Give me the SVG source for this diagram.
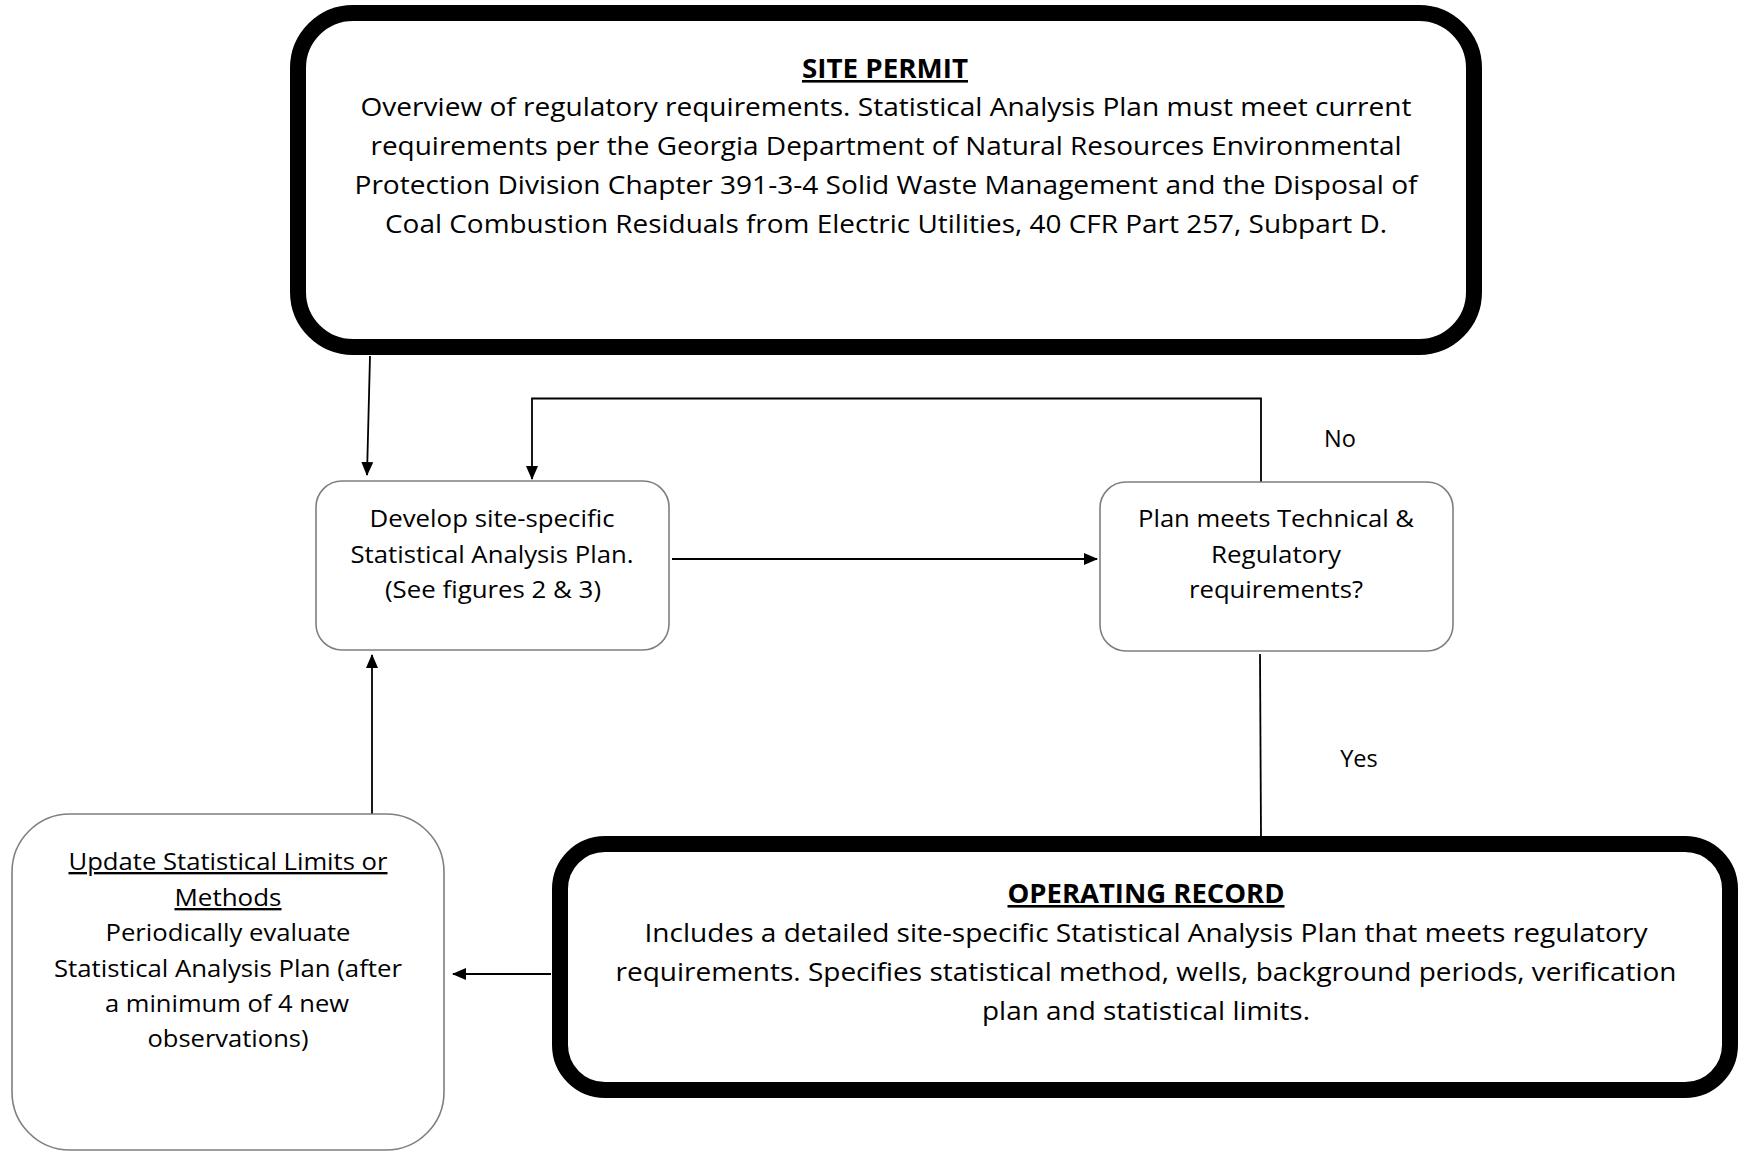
<svg xmlns="http://www.w3.org/2000/svg" width="1738" height="1151" viewBox="0 0 1738 1151">
<style>
text{font-family:"Open Sans","Noto Sans","Liberation Sans",sans-serif;fill:#000;text-anchor:middle}
.big{font-size:26px}
.sm{font-size:23.5px}
.b{font-weight:bold}
.u{text-decoration:underline}
.thick{fill:#fff;stroke:#000;stroke-width:16}
.thin{fill:#fff;stroke:#7f7f7f;stroke-width:1.6}
.c{fill:none;stroke:#000;stroke-width:1.8}
</style>
<defs>
<marker id="ah" markerUnits="userSpaceOnUse" markerWidth="14" markerHeight="12" refX="13" refY="6" orient="auto">
<path d="M0,0 L14,6 L0,12 z" fill="#000"/>
</marker>
</defs>
<rect width="1738" height="1151" fill="#fff"/>
<g id="connectors">
<path class="c" d="M370,356 L367,475" marker-end="url(#ah)"/>
<path class="c" d="M1261,482 L1261,398.5 L532,398.5 L532,479" marker-end="url(#ah)"/>
<path class="c" d="M672,559 L1097,559" stroke-width="2.2" marker-end="url(#ah)"/>
<path class="c" d="M1260,654 L1261,837"/>
<path class="c" d="M551,974 L453,974" marker-end="url(#ah)"/>
<path class="c" d="M372,814 L372,655" marker-end="url(#ah)"/>
<text class="sm" x="1340" y="447">No</text>
<text class="sm" x="1359" y="767">Yes</text>
</g>
<g id="site-permit">
<rect class="thick" x="298" y="13" width="1176" height="334" rx="55"/>
<text class="big b u" x="885" y="78" textLength="166" lengthAdjust="spacingAndGlyphs">SITE PERMIT</text>
<text class="big" x="886" y="116" textLength="1051" lengthAdjust="spacingAndGlyphs">Overview of regulatory requirements. Statistical Analysis Plan must meet current</text>
<text class="big" x="886" y="155" textLength="1031" lengthAdjust="spacingAndGlyphs">requirements per the Georgia Department of Natural Resources Environmental</text>
<text class="big" x="886" y="194" textLength="1063" lengthAdjust="spacingAndGlyphs">Protection Division Chapter 391-3-4 Solid Waste Management and the Disposal of</text>
<text class="big" x="886" y="233" textLength="1002" lengthAdjust="spacingAndGlyphs">Coal Combustion Residuals from Electric Utilities, 40 CFR Part 257, Subpart D.</text>
</g>
<g id="develop">
<rect class="thin" x="316" y="481" width="353" height="169" rx="26"/>
<text class="sm" x="492" y="527" textLength="245" lengthAdjust="spacingAndGlyphs">Develop site-specific</text>
<text class="sm" x="492" y="563" textLength="283" lengthAdjust="spacingAndGlyphs">Statistical Analysis Plan.</text>
<text class="sm" x="493" y="598" textLength="216" lengthAdjust="spacingAndGlyphs">(See figures 2 &amp; 3)</text>
</g>
<g id="plan-check">
<rect class="thin" x="1100" y="482" width="353" height="169" rx="26"/>
<text class="sm" x="1276" y="527" textLength="276" lengthAdjust="spacingAndGlyphs">Plan meets Technical &amp;</text>
<text class="sm" x="1276" y="563" textLength="130" lengthAdjust="spacingAndGlyphs">Regulatory</text>
<text class="sm" x="1276" y="598" textLength="174" lengthAdjust="spacingAndGlyphs">requirements?</text>
</g>
<g id="update">
<rect class="thin" x="12" y="814" width="432" height="336" rx="58"/>
<text class="sm u" x="228" y="870" textLength="319" lengthAdjust="spacingAndGlyphs">Update Statistical Limits or</text>
<text class="sm u" x="228" y="906" textLength="107" lengthAdjust="spacingAndGlyphs">Methods</text>
<text class="sm" x="228" y="941" textLength="245" lengthAdjust="spacingAndGlyphs">Periodically evaluate</text>
<text class="sm" x="228" y="977" textLength="348" lengthAdjust="spacingAndGlyphs">Statistical Analysis Plan (after</text>
<text class="sm" x="227" y="1012" textLength="244" lengthAdjust="spacingAndGlyphs">a minimum of 4 new</text>
<text class="sm" x="228" y="1047" textLength="161" lengthAdjust="spacingAndGlyphs">observations)</text>
</g>
<g id="operating-record">
<rect class="thick" x="560" y="844" width="1170" height="246" rx="45"/>
<text class="big b u" x="1146" y="903" textLength="277" lengthAdjust="spacingAndGlyphs">OPERATING RECORD</text>
<text class="big" x="1146" y="942" textLength="1003" lengthAdjust="spacingAndGlyphs">Includes a detailed site-specific Statistical Analysis Plan that meets regulatory</text>
<text class="big" x="1146" y="981" textLength="1061" lengthAdjust="spacingAndGlyphs">requirements. Specifies statistical method, wells, background periods, verification</text>
<text class="big" x="1146" y="1020" textLength="328" lengthAdjust="spacingAndGlyphs">plan and statistical limits.</text>
</g>
</svg>
